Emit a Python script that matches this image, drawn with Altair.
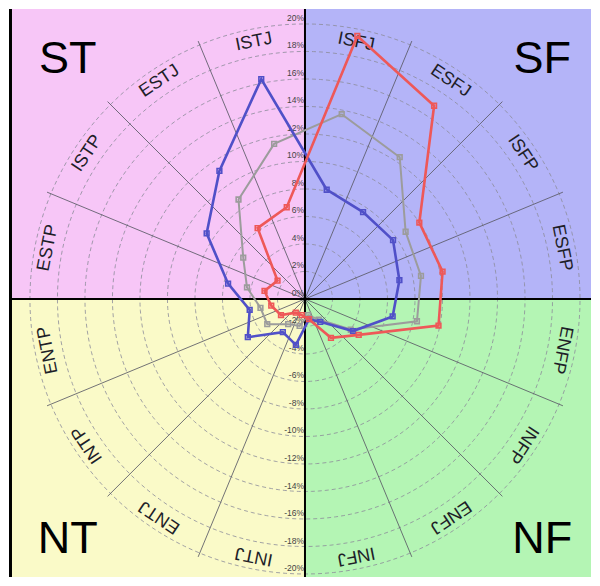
import altair as alt
import pandas as pd

# ---------------- data ----------------
TYPES = ["ISFJ", "ESFJ", "ISFP", "ESFP", "ENFP", "INFP", "ENFJ", "INFJ",
         "INTJ", "ENTJ", "INTP", "ENTP", "ESTP", "ISTP", "ESTJ", "ISTJ"]
GRAY = [13.7, 12.4, 8.8, 8.6, 8.3, 4.0, 1.8, 1.2, 2.0, 2.2, 3.3, 3.3, 4.3, 5.4, 8.7, 11.5]
BLUE = [8.1, 7.6, 7.7, 7.0, 6.5, 4.2, 2.0, 1.5, 3.4, 2.9, 5.0, 4.1, 5.7, 8.6, 11.2, 16.3]
RED = [19.5, 16.9, 10.0, 10.2, 9.9, 4.7, 3.4, 1.5, 1.2, 1.2, 2.1, 2.5, 3.0, 2.4, 6.2, 6.8]

SERIES_NAMES = ["gray", "blue", "red"]
SERIES_VALUES = [GRAY, BLUE, RED]

RINGS = [2, 4, 6, 8, 10, 12, 14, 16, 18, 20]
TICK_VALUES = [20, 18, 16, 14, 12, 10, 8, 6, 4, 2, 0,
               -2, -4, -6, -8, -10, -12, -14, -16, -18, -20]
TICK_LABELS = [f"{v}%" for v in TICK_VALUES]
QUADS = ["ST", "SF", "NT", "NF"]

# ---------------- styling / geometry ----------------
SERIES_COLORS = {"gray": "#9C9C9C", "blue": "#5050C8", "red": "#EE5858"}
SERIES_WIDTHS = {"gray": 2.0, "blue": 2.6, "red": 2.6}
QUAD_FILL = {"ST": "#F7C6F7", "SF": "#B4B4F8", "NT": "#FAFAC8", "NF": "#B4F5B4"}
FONT = "Liberation Sans"

FIRST_ANGLE = 11.25
STEP = 22.5
SPOKE_R = 20.3
LABEL_R = 19.05
QUAD_LABEL_X = 17.25
QUAD_LABEL_Y = 17.45
RING_SAMPLES = 180

W, H = 584, 570
PX = 13.8           # pixels per percentage point
CX, CY = 297, 291   # centre in chart pixels
XMIN, XMAX = -CX / PX, (W - CX) / PX
YMIN, YMAX = -(H - CY) / PX, CY / PX

xs = alt.Scale(domain=[XMIN, XMAX], nice=False, zero=False)
ys = alt.Scale(domain=[YMIN, YMAX], nice=False, zero=False)


def X(f):
    return alt.X(f, type="quantitative", scale=xs, axis=None)


def Y(f):
    return alt.Y(f, type="quantitative", scale=ys, axis=None)


# ---------------- tables ----------------
quad_df = pd.DataFrame({
    "q": QUADS,
    "x0": [XMIN, 0, XMIN, 0],
    "x1": [0, XMAX, 0, XMAX],
    "y0": [0, 0, YMIN, YMIN],
    "y1": [YMAX, YMAX, 0, 0],
    "fill": [QUAD_FILL[q] for q in QUADS],
    "lx": [-QUAD_LABEL_X, QUAD_LABEL_X, -QUAD_LABEL_X, QUAD_LABEL_X],
    "ly": [QUAD_LABEL_Y, QUAD_LABEL_Y, -QUAD_LABEL_Y, -QUAD_LABEL_Y],
})

border_df = pd.DataFrame({
    "x0": [XMIN], "x1": [XMIN + 3 / PX],
    "y0": [YMIN], "y1": [YMAX],
    "fill": ["#000000"],
})

# gridline circles (geometry, not data)
ring_rows = []
for r in RINGS:
    for k in range(RING_SAMPLES + 1):
        ring_rows.append({"ring": r, "k": k, "r": r, "a": 360.0 * k / RING_SAMPLES})
ring_df = pd.DataFrame(ring_rows)

spoke_df = pd.DataFrame({"a": [STEP * k for k in range(16) if (STEP * k) % 90 != 0]})
spoke_df["cx"] = 0.0
spoke_df["cy"] = 0.0
spoke_df["r"] = SPOKE_R
origin_df = pd.DataFrame({"cx": [0.0], "cy": [0.0]})
tick_df = pd.DataFrame({"v": TICK_VALUES, "label": TICK_LABELS, "cx": 0.0})
cat_df = pd.DataFrame({"type": TYPES,
                       "a": [FIRST_ANGLE + STEP * i for i in range(len(TYPES))]})
cat_df["r"] = LABEL_R

rows = []
for name, vals in zip(SERIES_NAMES, SERIES_VALUES):
    for i, (t, v) in enumerate(zip(TYPES + [TYPES[0]], vals + [vals[0]])):
        rows.append({"series": name, "type": t, "idx": i, "r": v,
                     "a": FIRST_ANGLE + STEP * (i % len(TYPES)),
                     "closing": i == len(TYPES)})
series_df = pd.DataFrame(rows)

polar = dict(px="datum.r * sin(datum.a * PI / 180)",
             py="datum.r * cos(datum.a * PI / 180)")

# ---------------- layers ----------------
quads = alt.Chart(quad_df).mark_rect().encode(
    x=X("x0"), x2="x1", y=Y("y0"), y2="y1",
    color=alt.Color("fill:N", scale=None))

borders = alt.Chart(border_df).mark_rect().encode(
    x=X("x0"), x2="x1", y=Y("y0"), y2="y1",
    color=alt.Color("fill:N", scale=None))

rings = alt.Chart(ring_df).transform_calculate(**polar).mark_line(
    color="#8C8C9A", strokeWidth=1, strokeDash=[4, 3], opacity=0.8
).encode(x=X("px"), y=Y("py"), detail="ring:N", order="k:Q")

spokes = alt.Chart(spoke_df).transform_calculate(**polar).mark_rule(
    color="#5A5A66", strokeWidth=1, opacity=0.85
).encode(x=X("cx"), y=Y("cy"), x2="px:Q", y2="py:Q")

vaxis = alt.Chart(origin_df).mark_rule(color="#000000", strokeWidth=2).encode(x=X("cx"))
haxis = alt.Chart(origin_df).mark_rule(color="#000000", strokeWidth=2).encode(y=Y("cy"))

ticks = alt.Chart(tick_df).mark_text(
    align="right", baseline="middle", dx=-1, dy=-6, fontSize=8.5,
    font=FONT, color="#444444"
).encode(x=X("cx"), y=Y("v"), text="label:N")

cats = alt.Chart(cat_df).transform_calculate(**polar).mark_text(
    align="center", baseline="middle", fontSize=18, font=FONT, color="#1E1E28"
).encode(x=X("px"), y=Y("py"), text="type:N",
         angle=alt.Angle("a:Q", scale=None))

quad_labels = alt.Chart(quad_df).mark_text(
    align="center", baseline="middle", fontSize=45, font=FONT, color="#000000"
).encode(x=X("lx"), y=Y("ly"), text="q:N")

series_layers = []
for name in SERIES_NAMES:
    base = alt.Chart(series_df).transform_filter(
        alt.datum.series == name).transform_calculate(**polar)
    line = base.mark_line(color=SERIES_COLORS[name],
                          strokeWidth=SERIES_WIDTHS[name]).encode(
        x=X("px"), y=Y("py"), order="idx:Q")
    pts = base.transform_filter("!datum.closing").mark_point(
        shape="square", filled=False, size=22, strokeWidth=1.6,
        color=SERIES_COLORS[name], opacity=1).encode(x=X("px"), y=Y("py"))
    series_layers += [line, pts]

chart = alt.layer(
    quads, borders, rings, spokes, vaxis, haxis, ticks, cats, quad_labels,
    *series_layers
).properties(
    width=W, height=H, padding=0,
    autosize=alt.AutoSizeParams(type="fit", contains="padding"),
    background="white",
).configure_view(strokeWidth=0)

chart.save("out.html", embed_options={"renderer": "svg", "actions": False})
